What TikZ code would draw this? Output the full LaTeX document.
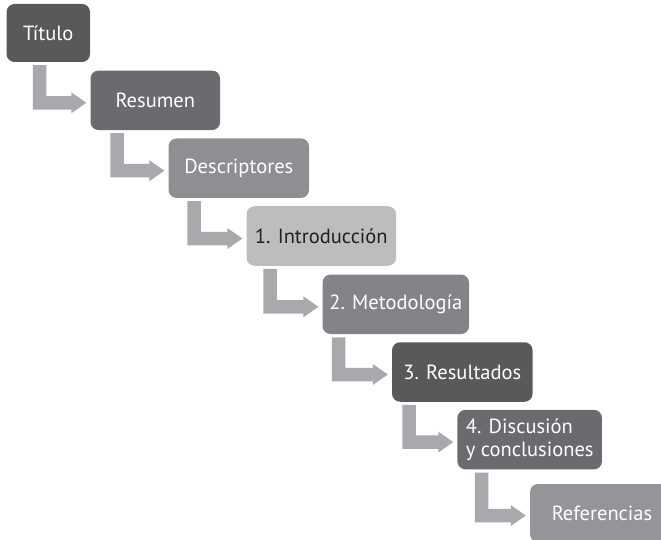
\documentclass[tikz,border=0pt]{standalone}
\usepackage{fontspec}
\setmainfont{PT Sans}
\usetikzlibrary{calc}
\usetikzlibrary{positioning}

\definecolor{grisA}{HTML}{58595B}
\definecolor{grisB}{HTML}{6A6B6E}
\definecolor{grisC}{HTML}{8E8F92}
\definecolor{grisD}{HTML}{BCBDBF}
\definecolor{grisE}{HTML}{838487}
\definecolor{grisF}{HTML}{939598}
\definecolor{flecha}{HTML}{A7A9AC}
\definecolor{texto}{HTML}{231F20}

\tikzset{
  paso/.style={rounded corners=8pt, inner sep=0pt, minimum height=59.5, text=white,
    font=\fontsize{20.5}{25}\selectfont},
  codo/.style={fill=flecha, draw=none}
}

\begin{document}
\begin{tikzpicture}[x=1pt, y=-1pt]
            \path[use as bounding box, clip] (0,0) rectangle (661,540);

            % Steps
            \node[paso, fill=grisA, minimum width=83.5, minimum height=58] (titulo) at (48.3,33) {Título};
            \node[paso, fill=grisB, minimum width=129.5] (resumen) at (155.3,100.3) {Resumen};
            \node[paso, fill=grisC, minimum width=140.5] (descr) at (238.8,168.2) {Descriptores};
            \node[paso, fill=grisD, text=texto, minimum width=149.5] (intro) at (321.3,236) {1. Introducción};
            \node[paso, fill=grisE, minimum width=146.5] (metod) at (395.8,304.3) {2. Metodología};
            \node[paso, fill=grisA, minimum width=140.5] (result) at (462.3,372) {3. Resultados};
            \node[paso, fill=grisB, minimum width=144.5, align=left] (discus) at (529.7,439.6)
                {4. Discusión\\[-2pt]y conclusiones};
            \node[paso, fill=grisF, minimum width=144, minimum height=58] (refer) at (602,513) {Referencias};

            % Bent arrows between steps
            \foreach \a/\b/\o in {titulo/resumen/26.5, resumen/descr/20, descr/intro/19,
                                  intro/metod/17, metod/result/9.5, result/discus/10.6, discus/refer/17.6} {
                \coordinate (top) at ($(\a.south west)+(\o,3)$);
                \coordinate (tip) at ($(\b.west)+(-4,2.5)$);
                \fill[codo] (top) -- ++(13.5,0) -- ($(top |- tip)+(13.5,-6.75)$)
                    -- ($(tip)+(-15,-6.75)$) -- ($(tip)+(-15,-10.5)$) -- (tip)
                    -- ($(tip)+(-15,10.5)$) -- ($(tip)+(-15,6.75)$)
                    -- ($(top |- tip)+(0,6.75)$) -- cycle;
            }

        \end{tikzpicture}
\end{document}
